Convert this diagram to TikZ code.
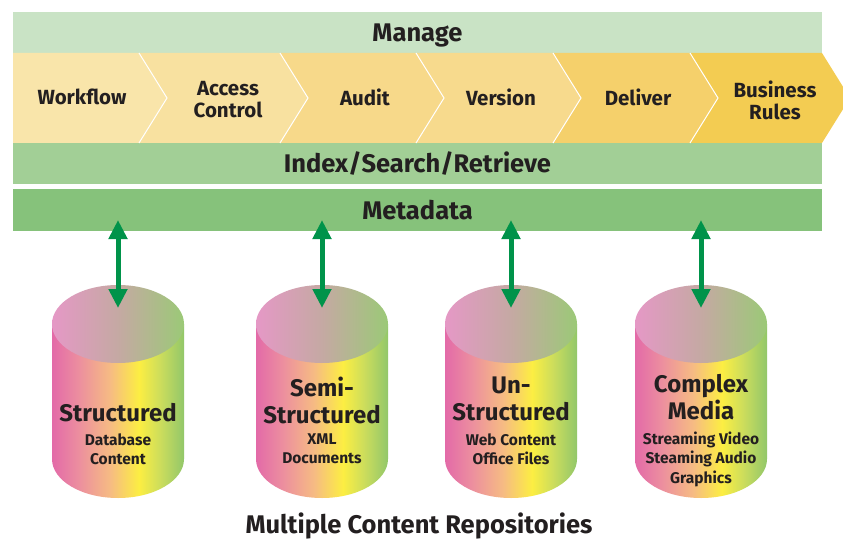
\documentclass[tikz,border=0pt]{standalone}
\usepackage{fontspec}
\setmainfont{Fira Sans}
\usetikzlibrary{arrows.meta}
\definecolor{txt}{HTML}{231F20}
\definecolor{manageC}{HTML}{C9E3C5}
\definecolor{indexC}{HTML}{A2CF96}
\definecolor{metaC}{HTML}{86C27B}
\definecolor{chA}{HTML}{F9E5AA}
\definecolor{chB}{HTML}{F8E1A0}
\definecolor{chC}{HTML}{F7D98A}
\definecolor{chD}{HTML}{F7DA8D}
\definecolor{chE}{HTML}{F5D06B}
\definecolor{chF}{HTML}{F3CC52}
\definecolor{arrC}{HTML}{00934A}
\definecolor{sA}{HTML}{E36AA8}
\definecolor{sB}{HTML}{EC8E9F}
\definecolor{sC}{HTML}{F6BB83}
\definecolor{sD}{HTML}{FCEE42}
\definecolor{sE}{HTML}{CCDD5C}
\definecolor{sF}{HTML}{92C76A}
\definecolor{tA}{HTML}{E598C6}
\definecolor{tB}{HTML}{C5A9A3}
\definecolor{tC}{HTML}{9BC977}
\pgfdeclarehorizontalshading{cylside}{100bp}{color(0bp)=(sA); color(25bp)=(sA); color(35bp)=(sB); color(47bp)=(sC); color(58bp)=(sD); color(66bp)=(sE); color(75bp)=(sF); color(100bp)=(sF)}
\pgfdeclarehorizontalshading{cyltop}{100bp}{color(0bp)=(tA); color(25bp)=(tA); color(50bp)=(tB); color(75bp)=(tC); color(100bp)=(tC)}
\tikzset{
  bandbox/.style={rectangle, inner sep=0pt, outer sep=0pt, minimum width=809pt, text height=18pt, text depth=0pt, text=txt, font=\bfseries\fontsize{25.5}{30}\selectfont},
  chevlabel/.style={align=center, text=txt, inner sep=0pt, font=\bfseries\fontsize{20.5}{22}\selectfont},
  sep/.style={draw=white, line width=1pt},
  cylhead/.style={align=center, text=txt, inner sep=0pt, font=\bfseries\fontsize{24}{27}\selectfont},
  cylsub/.style={align=center, text=txt, inner sep=0pt, font=\bfseries\fontsize{15.5}{19.5}\selectfont},
  dbl/.style={draw=arrC, line width=5pt, {Triangle[width=18pt,length=19pt]}-{Triangle[width=18pt,length=19pt]}},
  titlelabel/.style={text=txt, inner sep=0pt, text height=18pt, text depth=0pt, font=\bfseries\fontsize{25.5}{30}\selectfont}
}
\newcommand{\cylinderAt}[1]{%
  \shade[shading=cylside] (#1-66,324) -- (#1-66,459) arc[start angle=180, end angle=0, x radius=66, y radius=39] -- (#1+66,324) -- cycle;
  \shade[shading=cyltop] (#1,324) ellipse [x radius=66, y radius=39];
}
\begin{document}
\begin{tikzpicture}[x=1pt, y=-1pt]
\useasboundingbox (0,0) rectangle (843,540);
\fill[white] (0,0) rectangle (843,540);
% bands
\node[bandbox, fill=manageC, minimum height=41pt] (manage) at (417.5,32.5) {Manage};
\node[bandbox, fill=indexC, minimum height=41pt] (index) at (417.5,163.5) {Index/Search/Retrieve};
\node[bandbox, fill=metaC, minimum height=42pt] (meta) at (417.5,210) {Metadata};
% chevrons
\fill[chA] (13,53) -- (139,53) -- (167,98) -- (139,143) -- (13,143) -- cycle;
\fill[chB] (139,53) -- (280,53) -- (308,98) -- (280,143) -- (139,143) -- (167,98) -- cycle;
\fill[chC] (280,53) -- (416,53) -- (444,98) -- (416,143) -- (280,143) -- (308,98) -- cycle;
\fill[chD] (416,53) -- (553,53) -- (581,98) -- (553,143) -- (416,143) -- (444,98) -- cycle;
\fill[chE] (553,53) -- (690,53) -- (718,98) -- (690,143) -- (553,143) -- (581,98) -- cycle;
\fill[chF] (690,53) -- (822,53) -- (850,98) -- (822,143) -- (690,143) -- (718,98) -- cycle;
\draw[sep] (139,53) -- (167,98) -- (139,143);
\draw[sep] (280,53) -- (308,98) -- (280,143);
\draw[sep] (416,53) -- (444,98) -- (416,143);
\draw[sep] (553,53) -- (581,98) -- (553,143);
\draw[sep] (690,53) -- (718,98) -- (690,143);
\node[chevlabel] (workflow) at (82,97) {Workflow};
\node[chevlabel] (access) at (228,100) {Access\\Control};
\node[chevlabel] (audit) at (365,97) {Audit};
\node[chevlabel] (version) at (501,97) {Version};
\node[chevlabel] (deliver) at (638,97) {Deliver};
\node[chevlabel] (rules) at (775,100) {Business\\Rules};
% cylinders
\cylinderAt{118}
\cylinderAt{322}
\cylinderAt{511}
\cylinderAt{701}
\node[cylhead] (h1) at (118,413) {Structured};
\node[cylsub] (s1) at (118,449) {Database\\Content};
\node[cylhead] (h2) at (322,400) {Semi-\\Structured};
\node[cylsub] (s2) at (322,449) {XML\\Documents};
\node[cylhead] (h3) at (511,399) {Un-\\Structured};
\node[cylsub] (s3) at (511,449) {Web Content\\Office Files};
\node[cylhead] (h4) at (701,397) {Complex\\Media};
\node[cylsub] (s4) at (701,459) {Streaming Video\\Steaming Audio\\Graphics};
% arrows
\coordinate (t1) at (118,220); \coordinate (b1) at (118,308);
\coordinate (t2) at (322,220); \coordinate (b2) at (322,308);
\coordinate (t3) at (511,220); \coordinate (b3) at (511,308);
\coordinate (t4) at (701,220); \coordinate (b4) at (701,308);
\draw[dbl] (t1) -- (b1);
\draw[dbl] (t2) -- (b2);
\draw[dbl] (t3) -- (b3);
\draw[dbl] (t4) -- (b4);
\node[titlelabel] (title) at (419,524) {Multiple Content Repositories};
\end{tikzpicture}
\end{document}
